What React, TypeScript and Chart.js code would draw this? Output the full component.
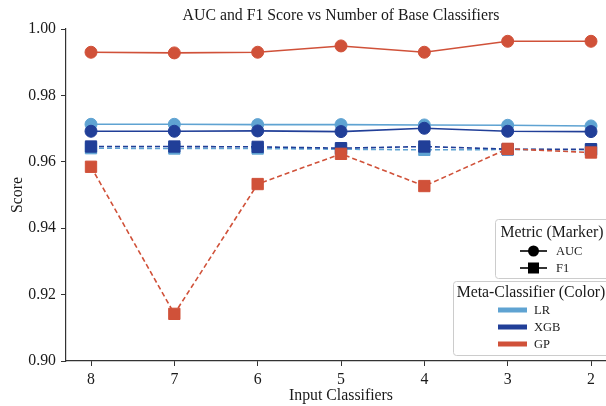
import React, { useEffect, useRef } from "react";
import { Chart, registerables } from "chart.js";

Chart.register(...registerables);

// ---------- data ----------
const categories = ["8", "7", "6", "5", "4", "3", "2"];
const yTickValues = [0.9, 0.92, 0.94, 0.96, 0.98, 1.0];

const lrAuc = [0.9713, 0.9713, 0.9712, 0.9712, 0.9711, 0.971, 0.9708];
const lrF1 = [0.9641, 0.964, 0.964, 0.9638, 0.9636, 0.9637, 0.9636];
const xgbAuc = [0.9692, 0.9692, 0.9693, 0.9691, 0.9701, 0.9692, 0.9691];
const xgbF1 = [0.9646, 0.9646, 0.9645, 0.9641, 0.9646, 0.9638, 0.9638];
const gpAuc = [0.993, 0.9928, 0.993, 0.9949, 0.993, 0.9963, 0.9963];
const gpF1 = [0.9585, 0.9142, 0.9533, 0.9624, 0.9527, 0.9639, 0.9628];

const titleText = "AUC and F1 Score vs Number of Base Classifiers";
const xTitle = "Input Classifiers";
const yTitle = "Score";
const metricLegendTitle = "Metric (Marker)";
const metricLabels = ["AUC", "F1"];
const colorLegendTitle = "Meta-Classifier (Color)";
const classifierLabels = ["LR", "XGB", "GP"];

const COLORS: Record<string, string> = {
  LR: "#5fa3d2",
  XGB: "#213f98",
  GP: "#d05139",
};

const FONT = "'Liberation Serif', 'Times New Roman', serif";
const FS = 15.8;
const TEXT = "#1a1a1a";
const AXIS = "#333333";

function makeDataset(name: string, metric: string, values: number[]) {
  const color = COLORS[name];
  const isF1 = metric === "F1";
  return {
    label: `${name} ${metric}`,
    data: values.map((v, i) => ({ x: i, y: v })),
    borderColor: color,
    backgroundColor: color,
    pointBackgroundColor: color,
    pointBorderColor: color,
    pointBorderWidth: 1,
    borderWidth: 1.6,
    borderDash: isF1 ? [5, 3] : [],
    pointStyle: isF1 ? "rect" : "circle",
    pointRadius: isF1 ? 8 : 6,
    pointHoverRadius: isF1 ? 8 : 6,
    tension: 0,
    fill: false,
    clip: false,
  };
}

const decorPlugin = {
  id: "decor",
  afterDraw(chart: any) {
    const { ctx, chartArea, scales } = chart;
    const xs = scales.x;
    const midX = xs.getPixelForValue(3);
    ctx.save();
    ctx.fillStyle = TEXT;
    ctx.textAlign = "center";
    ctx.textBaseline = "middle";
    ctx.font = `${FS}px ${FONT}`;
    ctx.fillText(titleText, midX, chartArea.top - 13);
    ctx.fillText(xTitle, midX, chartArea.bottom + 35);

    const right = chart.width + 8;
    const b1 = { l: 495, t: 219, b: 278 };
    const b2 = { l: 453, t: 281, b: 355 };
    const drawBox = (b: any) => {
      ctx.beginPath();
      ctx.roundRect(b.l + 0.5, b.t + 0.5, right - b.l, b.b - b.t, 3);
      ctx.fillStyle = "rgba(255,255,255,0.85)";
      ctx.fill();
      ctx.strokeStyle = "#cccccc";
      ctx.lineWidth = 1;
      ctx.stroke();
    };
    drawBox(b1);
    drawBox(b2);

    ctx.fillStyle = TEXT;
    ctx.textAlign = "center";
    ctx.font = `${FS}px ${FONT}`;
    ctx.fillText(metricLegendTitle, 552, 233);
    ctx.fillText(colorLegendTitle, 531, 293);

    ctx.textAlign = "left";
    ctx.font = `12.5px ${FONT}`;
    metricLabels.forEach((lab, i) => {
      const y = 251 + i * 17;
      ctx.strokeStyle = "#000";
      ctx.lineWidth = 1.6;
      ctx.beginPath();
      ctx.moveTo(520, y);
      ctx.lineTo(547, y);
      ctx.stroke();
      ctx.fillStyle = "#000";
      if (lab === "AUC") {
        ctx.beginPath();
        ctx.arc(533.5, y, 5.5, 0, Math.PI * 2);
        ctx.fill();
      } else {
        ctx.fillRect(528, y - 5.5, 11, 11);
      }
      ctx.fillStyle = TEXT;
      ctx.fillText(lab, 556, y + 1);
    });

    classifierLabels.forEach((lab, i) => {
      const y = 310 + i * 17;
      ctx.fillStyle = COLORS[lab];
      ctx.fillRect(498, y - 2.5, 29, 5);
      ctx.fillStyle = TEXT;
      ctx.fillText(lab, 534, y + 1);
    });
    ctx.restore();
  },
};

export default function App() {
  const canvasRef = useRef<HTMLCanvasElement | null>(null);

  useEffect(() => {
    const canvas = canvasRef.current;
    if (!canvas) return;
    const datasets = [
      makeDataset("GP", "F1", gpF1),
      makeDataset("GP", "AUC", gpAuc),
      makeDataset("XGB", "F1", xgbF1),
      makeDataset("XGB", "AUC", xgbAuc),
      makeDataset("LR", "F1", lrF1),
      makeDataset("LR", "AUC", lrAuc),
    ];
    const chart = new Chart(canvas, {
      type: "line",
      data: { datasets } as any,
      options: {
        animation: false,
        responsive: true,
        maintainAspectRatio: false,
        layout: { autoPadding: false, padding: { top: 29, right: 0, left: 0, bottom: 0 } },
        plugins: {
          legend: { display: false },
          title: { display: false },
          tooltip: { enabled: false },
        },
        scales: {
          x: {
            type: "linear",
            min: -0.3,
            max: 6.18,
            afterBuildTicks: (scale: any) => {
              scale.ticks = categories.map((_, i) => ({ value: i }));
            },
            afterFit: (scale: any) => {
              scale.height = 45;
              scale.paddingLeft = 0;
              scale.paddingRight = 0;
            },
            ticks: {
              autoSkip: false,
              maxRotation: 0,
              padding: 4,
              color: TEXT,
              font: { family: FONT, size: FS },
              callback: (v: any) => categories[Math.round(Number(v))] ?? "",
            },
            grid: {
              display: true,
              drawOnChartArea: false,
              drawTicks: true,
              tickLength: 5,
              color: AXIS,
              lineWidth: 1,
            },
            border: { display: true, color: AXIS, width: 1.2 },
          },
          y: {
            type: "linear",
            min: 0.9,
            max: 1.0,
            afterBuildTicks: (scale: any) => {
              scale.ticks = yTickValues.map((v) => ({ value: v }));
            },
            afterFit: (scale: any) => {
              scale.width = 66;
            },
            ticks: {
              padding: 5,
              color: TEXT,
              font: { family: FONT, size: FS },
              callback: (v: any) => Number(v).toFixed(2),
            },
            grid: {
              display: true,
              drawOnChartArea: false,
              drawTicks: true,
              tickLength: 5,
              color: AXIS,
              lineWidth: 1,
            },
            border: { display: true, color: AXIS, width: 1.2 },
            title: {
              display: true,
              text: yTitle,
              color: TEXT,
              font: { family: FONT, size: FS },
              padding: { top: 8, bottom: 0 },
            },
          },
        },
      } as any,
      plugins: [decorPlugin],
    });
    return () => chart.destroy();
  }, []);

  return (
    <div style={{ position: "fixed", left: 0, top: 0, width: 606, height: 406, background: "#fff" }}>
      <canvas ref={canvasRef} />
    </div>
  );
}
